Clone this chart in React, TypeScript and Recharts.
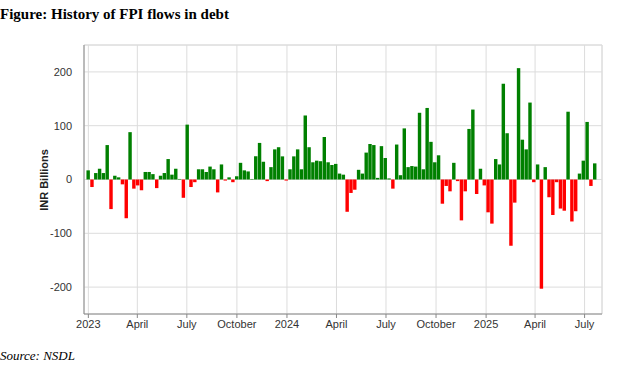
import React from "react";
import {
  BarChart,
  Bar,
  Cell,
  XAxis,
  YAxis,
  CartesianGrid,
  ReferenceLine,
} from "recharts";

// weekly FPI debt flows, INR billions, first week starting 2023-01-01
const FIRST_WEEK = "2023-01-01";
const flows = [
  17, -14, 12, 20, 12, 64, -55, 7, 4, -9,
  -72, 88, -17, -11, -20, 14, 14, 10, -16, 7,
  12, 38, 9, 20, 1, -34, 102, -14, -5, 19,
  19, 14, 24, 19, -24, 28, -2, 4, -5, 6,
  31, 17, 15, 1, 43, 68, 33, -3, 23, 56,
  60, 43, -2, 19, 43, 56, 19, 119, 60, 32,
  35, 34, 79, 32, 27, 29, 11, 9, -60, -25,
  -19, 18, 11, 50, 66, 64, 3, 62, 40, 2,
  -17, 65, 8, 95, 23, 25, 24, 124, 19, 133,
  70, 32, 45, -45, -12, -22, 31, -3, -76, -22,
  94, 130, -27, 20, -11, -61, -82, 38, 28, 178,
  86, -123, -43, 207, 74, 56, 143, -5, 28, -203,
  23, -33, -66, -5, -54, -58, 126, -78, -59, 11,
  35, 107, -12, 30,
];

const tickDates = [
  "2023-01-01", "2023-04-01", "2023-07-01", "2023-10-01",
  "2024-01-01", "2024-04-01", "2024-07-01", "2024-10-01",
  "2025-01-01", "2025-04-01", "2025-07-01",
];
const yTicks = [-200, -100, 0, 100, 200];
const monthNames = ["January", "February", "March", "April", "May", "June",
  "July", "August", "September", "October", "November", "December"];

const DAY = 86400000;
const t0 = Date.parse(FIRST_WEEK);
const toDay = (s: string) => Math.round((Date.parse(s) - t0) / DAY);

const data = flows.map((v, i) => ({ day: i * 7, value: v }));
const xTicks = tickDates.map(toDay);
const X_MIN = -8;
const X_MAX = 944;

const fmtTick = (d: number) => {
  const dt = new Date(t0 + d * DAY);
  const m = dt.getUTCMonth();
  return m === 0 ? String(dt.getUTCFullYear()) : monthNames[m];
};

const axisFont = { fontFamily: "'Liberation Sans', Arial, sans-serif", fontSize: 11, fill: "#333" };

export default function App() {
  return (
    <div style={{ position: "fixed", left: 0, top: 0, width: 623, height: 366, background: "#fff" }}>
      <div
        style={{
          position: "absolute", left: 0, top: 5, fontFamily: "'Liberation Serif', 'Times New Roman', serif",
          fontWeight: "bold", fontSize: 15, lineHeight: "18px", color: "#000", whiteSpace: "nowrap",
        }}
      >
        Figure: History of FPI flows in debt
      </div>
      <div style={{ position: "absolute", left: 0, top: 0 }}>
        <BarChart
          width={623}
          height={350}
          data={data}
          margin={{ top: 45, right: 21, bottom: 6, left: 24 }}
        >
          <CartesianGrid stroke="#dcdcdc" strokeWidth={1} />
          <XAxis
            dataKey="day"
            type="number"
            domain={[X_MIN, X_MAX]}
            allowDataOverflow
            ticks={xTicks}
            tickFormatter={fmtTick}
            height={30}
            stroke="#888"
            tickLine={{ stroke: "#888" }}
            tickSize={4}
            tick={axisFont}
            interval={0}
          />
          <YAxis
            type="number"
            domain={[-250, 250]}
            ticks={yTicks}
            width={60}
            stroke="#888"
            tickLine={false}
            tick={axisFont}
            tickMargin={6}
            interval={0}
          />
          <ReferenceLine y={250} stroke="#dcdcdc" />
          <ReferenceLine x={X_MAX} stroke="#dcdcdc" />
          <Bar dataKey="value" barSize={3.81} isAnimationActive={false}>
            {data.map((d, i) => (
              <Cell key={i} fill={d.value >= 0 ? "#008000" : "#ff0000"} />
            ))}
          </Bar>
        </BarChart>
      </div>
      <div
        style={{
          position: "absolute", left: 44, top: 180, transform: "translate(-50%, -50%) rotate(-90deg)",
          fontFamily: "'Liberation Sans', Arial, sans-serif", fontWeight: "bold", fontSize: 11,
          color: "#222", whiteSpace: "nowrap",
        }}
      >
        INR Billions
      </div>
      <div
        style={{
          position: "absolute", left: 0, top: 348, fontFamily: "'Liberation Serif', 'Times New Roman', serif",
          fontStyle: "italic", fontSize: 13, lineHeight: "16px", color: "#000",
        }}
      >
        Source: NSDL
      </div>
    </div>
  );
}
